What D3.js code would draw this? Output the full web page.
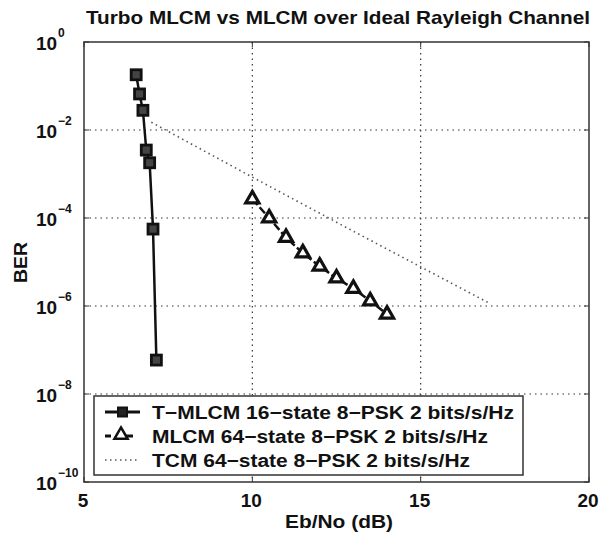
<!DOCTYPE html>
<meta charset="UTF-8">
<style>
  body { margin: 0; background: #fff; }
  text { font-family: "Liberation Sans", Arial, sans-serif; font-weight: bold; fill: #111; }
  .grid { stroke: #333; stroke-width: 1.2; stroke-dasharray: 1.5,4; fill: none; }
</style>
<body>
<svg id="chart" width="601" height="535"></svg>
<script src="https://d3js.org/d3.v7.min.js"></script>
<script>
// ---- data ----
var tmlcmX = [6.55, 6.65, 6.75, 6.85, 6.95, 7.05, 7.15];
var tmlcmY = [0.18, 0.066, 0.028, 0.0035, 0.0018, 5.6e-5, 5.9e-8];

var mlcmX = [10, 10.5, 11, 11.5, 12, 12.5, 13, 13.5, 14];
var mlcmY = [2.7e-4, 1.0e-4, 3.6e-5, 1.6e-5, 8e-6, 4.3e-6, 2.5e-6, 1.3e-6, 6.5e-7];

var tcmX = [7, 10, 13, 17];
var tcmY = [1.5e-2, 8.5e-4, 5.0e-5, 1.2e-6];

var xTicks = [5, 10, 15, 20];
var yTickExp = [0, -2, -4, -6, -8, -10];

var legendLabels = [
  "T\u2212MLCM 16\u2212state 8\u2212PSK 2 bits/s/Hz",
  "MLCM 64\u2212state 8\u2212PSK 2 bits/s/Hz",
  "TCM 64\u2212state 8\u2212PSK 2 bits/s/Hz"
];

var svg = d3.select("#chart");
var mLeft = 84, mRight = 589, mTop = 42, mBottom = 482;

var x = d3.scaleLinear().domain([5, 20]).range([mLeft, mRight]);
var y = d3.scaleLog().domain([1e-10, 1]).range([mBottom, mTop]);

// grid lines
yTickExp.slice(1, -1).forEach(function(e) {
  svg.append("line").attr("class", "grid")
    .attr("x1", mLeft).attr("x2", mRight)
    .attr("y1", y(Math.pow(10, e))).attr("y2", y(Math.pow(10, e)));
});
xTicks.slice(1, -1).forEach(function(v) {
  svg.append("line").attr("class", "grid")
    .attr("x1", x(v)).attr("x2", x(v))
    .attr("y1", mTop).attr("y2", mBottom);
});

// frame
svg.append("rect")
  .attr("x", mLeft).attr("y", mTop)
  .attr("width", mRight - mLeft).attr("height", mBottom - mTop)
  .attr("fill", "none").attr("stroke", "#333").attr("stroke-width", 1.5);

// inward tick marks
yTickExp.forEach(function(e) {
  var yy = y(Math.pow(10, e));
  svg.append("line").attr("x1", mLeft).attr("x2", mLeft + 5).attr("y1", yy).attr("y2", yy).attr("stroke", "#333");
  svg.append("line").attr("x1", mRight).attr("x2", mRight - 5).attr("y1", yy).attr("y2", yy).attr("stroke", "#333");
});
xTicks.forEach(function(v) {
  svg.append("line").attr("x1", x(v)).attr("x2", x(v)).attr("y1", mBottom).attr("y2", mBottom - 5).attr("stroke", "#333");
  svg.append("line").attr("x1", x(v)).attr("x2", x(v)).attr("y1", mTop).attr("y2", mTop + 5).attr("stroke", "#333");
});

// y tick labels 10^e
yTickExp.forEach(function(e) {
  var yy = y(Math.pow(10, e));
  svg.append("text")
    .attr("x", 36).attr("y", yy + 8)
    .style("font-size", "19px").text("10");
  svg.append("text")
    .attr("x", 58).attr("y", yy - 5)
    .style("font-size", "12px")
    .text(e === 0 ? "0" : "\u2212" + (-e));
});

// x tick labels
xTicks.forEach(function(v) {
  svg.append("text")
    .attr("x", x(v) - 1).attr("y", 507)
    .attr("text-anchor", "middle")
    .style("font-size", "19px")
    .text(v);
});

// axis titles
svg.append("text")
  .attr("x", 285).attr("y", 528)
  .attr("textLength", 108).attr("lengthAdjust", "spacingAndGlyphs")
  .style("font-size", "18px")
  .text("Eb/No (dB)");
svg.append("text")
  .attr("transform", "translate(27,283) rotate(-90)")
  .attr("textLength", 41).attr("lengthAdjust", "spacingAndGlyphs")
  .style("font-size", "19px")
  .text("BER");
svg.append("text")
  .attr("x", 86).attr("y", 24)
  .attr("textLength", 504).attr("lengthAdjust", "spacingAndGlyphs")
  .style("font-size", "19px")
  .text("Turbo MLCM vs MLCM over Ideal Rayleigh Channel");

// series
var line = d3.line().x(function(d) { return x(d[0]); }).y(function(d) { return y(d[1]); });
var tcm = d3.zip(tcmX, tcmY), mlcm = d3.zip(mlcmX, mlcmY), tm = d3.zip(tmlcmX, tmlcmY);

svg.append("path").datum(tcm).attr("d", line)
  .attr("fill", "none").attr("stroke", "#555").attr("stroke-width", 1.6)
  .attr("stroke-dasharray", "1.5,3.5");

svg.append("path").datum(mlcm).attr("d", line)
  .attr("fill", "none").attr("stroke", "#111").attr("stroke-width", 2.5)
  .attr("stroke-dasharray", "8,3");

svg.append("path").datum(tm).attr("d", line)
  .attr("fill", "none").attr("stroke", "#111").attr("stroke-width", 2.5);

var triangle = d3.symbol().type(d3.symbolTriangle).size(75);
svg.selectAll(".tri").data(mlcm).enter().append("path")
  .attr("class", "tri")
  .attr("d", triangle)
  .attr("transform", function(d) { return "translate(" + x(d[0]) + "," + y(d[1]) + ")"; })
  .attr("fill", "#fff").attr("stroke", "#111").attr("stroke-width", 3.2);

svg.selectAll(".sq").data(tm).enter().append("rect")
  .attr("class", "sq")
  .attr("x", function(d) { return x(d[0]) - 5; })
  .attr("y", function(d) { return y(d[1]) - 5; })
  .attr("width", 10).attr("height", 10)
  .attr("fill", "#444").attr("stroke", "#111").attr("stroke-width", 2.8);

// legend
var lg = svg.append("g");
lg.append("rect")
  .attr("x", 94).attr("y", 396).attr("width", 429).attr("height", 79)
  .attr("fill", "#fff").attr("stroke", "#333").attr("stroke-width", 1.5);
var rowY = [412, 436, 460];
var rowLen = [362, 336, 318];
legendLabels.forEach(function(lab, i) {
  lg.append("text").attr("x", 152).attr("y", rowY[i] + 6.5)
    .attr("textLength", rowLen[i]).attr("lengthAdjust", "spacingAndGlyphs")
    .style("font-size", "18px").text(lab);
});
lg.append("line").attr("x1", 105).attr("x2", 140).attr("y1", rowY[0]).attr("y2", rowY[0])
  .attr("stroke", "#111").attr("stroke-width", 3);
lg.append("rect").attr("x", 118).attr("y", rowY[0] - 4.5).attr("width", 9).attr("height", 9)
  .attr("fill", "#222").attr("stroke", "#111").attr("stroke-width", 2);
lg.append("line").attr("x1", 105).attr("x2", 111).attr("y1", rowY[1]).attr("y2", rowY[1])
  .attr("stroke", "#111").attr("stroke-width", 3);
lg.append("line").attr("x1", 126).attr("x2", 133).attr("y1", rowY[1]).attr("y2", rowY[1])
  .attr("stroke", "#111").attr("stroke-width", 3);
lg.append("path").attr("d", triangle)
  .attr("transform", "translate(121," + (rowY[1] - 1) + ")")
  .attr("fill", "#fff").attr("stroke", "#111").attr("stroke-width", 2.5);
lg.append("line").attr("x1", 105).attr("x2", 140).attr("y1", rowY[2]).attr("y2", rowY[2])
  .attr("stroke", "#555").attr("stroke-width", 1.6).attr("stroke-dasharray", "1.5,3.5");
</script>
</body>
